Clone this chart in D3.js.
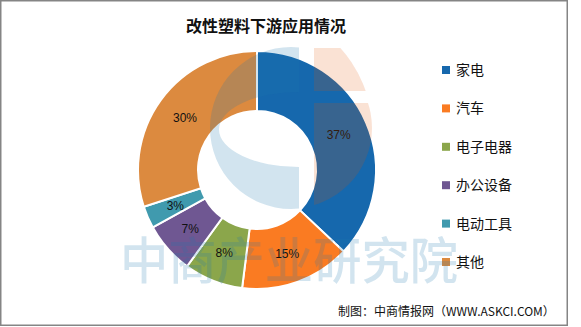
<!DOCTYPE html>
<html><head><meta charset="utf-8">
<script src="https://cdn.jsdelivr.net/npm/d3@7/dist/d3.min.js"></script>
<style>body{margin:0;background:#fff}svg{display:block}</style>
</head><body>
<script>
const categories = ["家电","汽车","电子电器","办公设备","电动工具","其他"];
const values = [37,15,8,7,3,30];
const colors = ["#1668ad","#fa7b22","#8ba64b","#6f5792","#409aae","#dc8a3f"];
const title = "改性塑料下游应用情况";
const source = "制图：中商情报网（WWW.ASKCI.COM）";
const watermark = "中商产业研究院";

const W = 581, H = 327;
const svg = d3.select("body").append("svg").attr("width", W).attr("height", H);
const cjk = "'Noto Sans CJK SC','Noto Sans',sans-serif";

svg.append("rect").attr("x",0.75).attr("y",0.75).attr("width",566.5).attr("height",324.5)
  .attr("fill","#fff").attr("stroke","#858585").attr("stroke-width",1.5);

svg.append("text").attr("x",266).attr("y",32).attr("text-anchor","middle")
  .attr("font-family",cjk).attr("font-size",16).attr("font-weight","bold").attr("fill","#111").text(title);

const cx = 257, cy = 170, rOut = 119, rIn = 59;
const pie = d3.pie().sort(null).value(d => d.v);
const arcs = pie(categories.map((c,i)=>({c, v: values[i], col: colors[i]})));
const arc = d3.arc().innerRadius(rIn).outerRadius(rOut);
const g = svg.append("g").attr("transform",`translate(${cx},${cy})`);
g.selectAll("path").data(arcs).join("path").attr("d",arc)
  .attr("fill",d=>d.data.col).attr("stroke","#fff").attr("stroke-width",2);
const labelArc = d3.arc().innerRadius((rIn+rOut)/2).outerRadius((rIn+rOut)/2);
g.selectAll("text").data(arcs).join("text")
  .attr("transform",d=>`translate(${labelArc.centroid(d)})`)
  .attr("text-anchor","middle").attr("dy","0.35em")
  .attr("font-family","'Liberation Sans',sans-serif").attr("font-size",12).attr("fill","#111")
  .text(d=>d.data.v+"%");

// legend
const ly = d3.scalePoint().domain(categories).range([70,262]);
const lg = svg.append("g");
categories.forEach((c,i)=>{
  lg.append("rect").attr("x",442).attr("y",ly(c)-4).attr("width",8).attr("height",8).attr("fill",colors[i]);
  lg.append("text").attr("x",456).attr("y",ly(c)).attr("dy","0.36em")
    .attr("font-family",cjk).attr("font-size",14).attr("fill","#111").text(c);
});

svg.append("text").attr("x",338).attr("y",316)
  .attr("font-family",cjk).attr("font-size",12).attr("fill","#111").text(source);

// watermark
const wm = svg.append("g").style("pointer-events","none");
const blueWM = "rgba(30,120,175,0.2)", orangeWM = "rgba(226,83,0,0.17)";
const defs = svg.append("defs");
defs.append("clipPath").attr("id","cclip").append("rect").attr("x",200).attr("y",40).attr("width",99).attr("height",180);
defs.append("clipPath").attr("id","oclip1").append("rect").attr("x",314).attr("y",48).attr("width",60).attr("height",43);
defs.append("clipPath").attr("id","oclip2").append("rect").attr("x",314).attr("y",103).attr("width",60).attr("height",103);
// C-shaped logo
wm.append("g").attr("clip-path","url(#cclip)").append("path").attr("fill-rule","evenodd").attr("fill",blueWM)
  .attr("d", `M${291-81},128 a81,81 0 1,0 162,0 a81,81 0 1,0 -162,0 Z M${299-80},129.5 a80,37.5 0 1,0 160,0 a80,37.5 0 1,0 -160,0 Z`);
// orange logo parts
wm.append("g").attr("clip-path","url(#oclip1)").append("path").attr("fill",orangeWM)
  .attr("d", d3.arc()({innerRadius:0,outerRadius:122,startAngle:0,endAngle:Math.PI}))
  .attr("transform","translate(250,130)");
wm.append("g").attr("clip-path","url(#oclip2)").append("path").attr("fill",orangeWM)
  .attr("d", d3.arc()({innerRadius:0,outerRadius:80,startAngle:0,endAngle:Math.PI}))
  .attr("transform","translate(292,128)");
wm.append("text").attr("x",120).attr("y",279).attr("textLength",338).attr("lengthAdjust","spacingAndGlyphs")
  .attr("font-family",cjk).attr("font-size",50).attr("font-weight",500).attr("fill",blueWM).text(watermark);
</script>
</body></html>
